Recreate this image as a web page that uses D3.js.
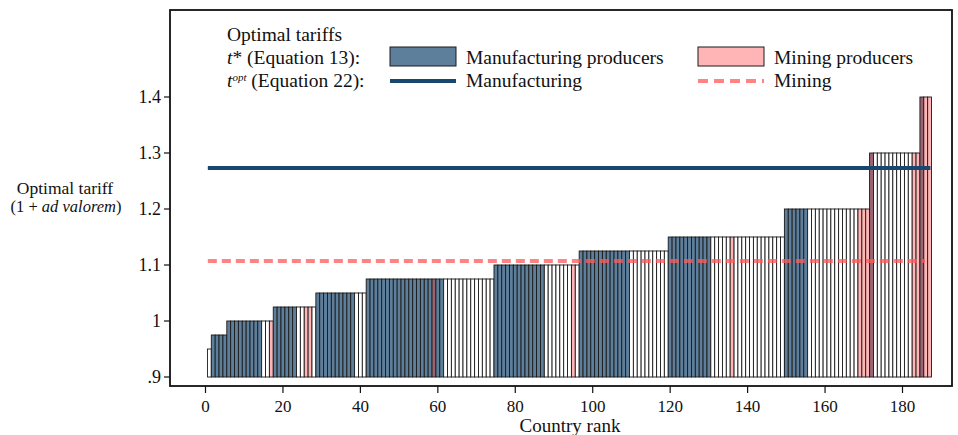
<!doctype html>
<html lang="en">
<head>
  <meta charset="utf-8">
  <style>
    body { margin: 0; background: #fff; }
    text { font-family: "Liberation Serif", "Times New Roman", serif; fill: #111; }
  </style>
</head>
<body>
  <script src="https://cdnjs.cloudflare.com/ajax/libs/d3/7.8.5/d3.min.js"></script>
  <div id="chart"></div>
  <script>
    // Tariff step levels, with the last country rank at each level
    var tariffLevels = [0.95, 0.975, 1.0, 1.025, 1.05, 1.075, 1.1, 1.125, 1.15, 1.2, 1.3, 1.4];
    var levelEndRank = [1, 5, 17, 28, 41, 74, 96, 119, 149, 171, 184, 187];

    // Producer type runs: [type, first rank, last rank]
    // M = manufacturing producer, X = mining producer, O = other, B = mining (overlapped)
    var typeRuns = [
      ["O", 1, 1], ["M", 2, 14], ["O", 15, 16], ["X", 17, 17],
      ["M", 18, 23], ["O", 24, 25], ["X", 26, 27], ["O", 28, 28],
      ["M", 29, 38], ["O", 39, 41], ["M", 42, 58], ["B", 59, 59],
      ["M", 60, 61], ["O", 62, 74], ["M", 75, 87], ["O", 88, 94],
      ["X", 95, 95], ["O", 96, 96], ["M", 97, 109], ["O", 110, 119],
      ["M", 120, 130], ["O", 131, 135], ["X", 136, 136], ["O", 137, 149],
      ["M", 150, 155], ["O", 156, 168], ["X", 169, 171], ["B", 172, 172],
      ["O", 173, 182], ["X", 183, 184], ["B", 185, 185], ["X", 186, 187]
    ];

    // Equation 22 optimal tariffs (horizontal lines)
    var optManufacturing = 1.273;
    var optMining = 1.107;
    var xTicks = [0, 20, 40, 60, 80, 100, 120, 140, 160, 180];
    var yTicks = [0.9, 1, 1.1, 1.2, 1.3, 1.4];

    var width = 958, height = 435;
    var colors = {M: "#5e7f9b", X: "#ffb5b5", O: "#ffffff", B: "#9a6472"};

    // build per-country rows
    var countries = [];
    var lvl = 0;
    typeRuns.forEach(function(run) {
      for (var r = run[1]; r <= run[2]; r++) {
        while (r > levelEndRank[lvl]) lvl++;
        countries.push({rank: r, type: run[0], tariff: tariffLevels[lvl]});
      }
    });

    var svg = d3.select("#chart").append("svg")
      .attr("width", width).attr("height", height);

    var x = d3.scaleLinear().domain([0, 180]).range([205.5, 902.5]);
    var y = d3.scaleLinear().domain([0.9, 1.4]).range([377, 97]);

    // bars
    svg.append("g").selectAll("rect").data(countries).enter()
      .append("rect")
      .attr("x", function(d) { return x(d.rank - 0.5); })
      .attr("width", function(d) { return x(d.rank + 0.5) - x(d.rank - 0.5); })
      .attr("y", function(d) { return y(d.tariff); })
      .attr("height", function(d) { return y(0.9) - y(d.tariff); })
      .attr("fill", function(d) { return colors[d.type]; })
      .attr("stroke", "#1a1a1a")
      .attr("stroke-width", 0.9);

    // optimal tariff lines
    svg.append("line")
      .attr("x1", x(0.6)).attr("x2", x(187.2))
      .attr("y1", y(optManufacturing)).attr("y2", y(optManufacturing))
      .attr("stroke", "#1a476f").attr("stroke-width", 4);
    svg.append("line")
      .attr("x1", x(0.6)).attr("x2", x(185.8))
      .attr("y1", y(optMining)).attr("y2", y(optMining))
      .attr("stroke", "#ff5a5a").attr("stroke-opacity", 0.75)
      .attr("stroke-width", 4).attr("stroke-dasharray", "9,5");

    // frame
    svg.append("rect")
      .attr("x", 170).attr("y", 10).attr("width", 782).attr("height", 376)
      .attr("fill", "none").attr("stroke", "#111").attr("stroke-width", 1.8);

    // y axis
    var yAxis = svg.append("g");
    yTicks.forEach(function(t) {
      yAxis.append("line").attr("x1", 164).attr("x2", 170)
        .attr("y1", y(t)).attr("y2", y(t)).attr("stroke", "#111").attr("stroke-width", 1.2);
      yAxis.append("text").attr("x", 161).attr("y", y(t) + 6)
        .attr("text-anchor", "end").style("font-size", "18px")
        .text(t === 0.9 ? ".9" : (t === 1 ? "1" : d3.format(".1f")(t)));
    });

    // x axis
    var xAxis = svg.append("g");
    xTicks.forEach(function(t) {
      xAxis.append("line").attr("x1", x(t)).attr("x2", x(t))
        .attr("y1", 386).attr("y2", 393).attr("stroke", "#111").attr("stroke-width", 1.2);
      xAxis.append("text").attr("x", x(t)).attr("y", 412)
        .attr("text-anchor", "middle").style("font-size", "17px").text(t);
    });

    svg.append("text").attr("x", 570).attr("y", 432)
      .attr("text-anchor", "middle").style("font-size", "19px").text("Country rank");

    // y title
    svg.append("text").attr("x", 65).attr("y", 194)
      .attr("text-anchor", "middle").style("font-size", "17.5px").text("Optimal tariff");
    var yt2 = svg.append("text").attr("x", 66).attr("y", 212)
      .attr("text-anchor", "middle").style("font-size", "16.5px");
    yt2.append("tspan").text("(1 + ");
    yt2.append("tspan").style("font-style", "italic").text("ad valorem");
    yt2.append("tspan").text(")");

    // legend
    var lg = svg.append("g").style("font-size", "19.5px");
    lg.append("text").attr("x", 227).attr("y", 41).text("Optimal tariffs");
    var l1 = lg.append("text").attr("x", 227).attr("y", 64);
    l1.append("tspan").style("font-style", "italic").text("t");
    l1.append("tspan").text("* (Equation 13):");
    var l2 = lg.append("text").attr("x", 227).attr("y", 87);
    l2.append("tspan").style("font-style", "italic").text("t");
    l2.append("tspan").style("font-style", "italic").style("font-size", "11px")
      .attr("dy", -6).text("opt");
    l2.append("tspan").attr("dy", 6).text(" (Equation 22):");

    lg.append("rect").attr("x", 390).attr("y", 47).attr("width", 66).attr("height", 19)
      .attr("fill", colors.M).attr("stroke", "#1a1a1a").attr("stroke-width", 1);
    lg.append("text").attr("x", 466).attr("y", 64).text("Manufacturing producers");
    lg.append("line").attr("x1", 390).attr("x2", 456).attr("y1", 81).attr("y2", 81)
      .attr("stroke", "#1a476f").attr("stroke-width", 4);
    lg.append("text").attr("x", 466).attr("y", 87).text("Manufacturing");

    lg.append("rect").attr("x", 698).attr("y", 47).attr("width", 66).attr("height", 19)
      .attr("fill", colors.X).attr("stroke", "#1a1a1a").attr("stroke-width", 1);
    lg.append("text").attr("x", 774).attr("y", 64).text("Mining producers");
    lg.append("line").attr("x1", 698).attr("x2", 764).attr("y1", 81).attr("y2", 81)
      .attr("stroke", "#ff5a5a").attr("stroke-opacity", 0.75)
      .attr("stroke-width", 4).attr("stroke-dasharray", "10,6");
    lg.append("text").attr("x", 774).attr("y", 87).text("Mining");
  </script>
</body>
</html>
